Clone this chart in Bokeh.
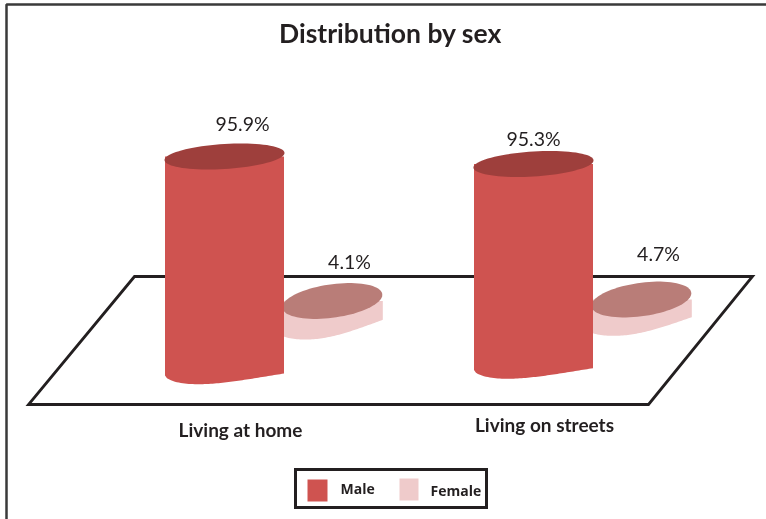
import math
from bokeh.plotting import figure
from bokeh.core.properties import value
from bokeh.models import Range1d
from bokeh.embed import file_html
from bokeh.resources import INLINE

# ---- data ----
title = "Distribution by sex"
categories = ["Living at home", "Living on streets"]
series = ["Male", "Female"]
male = [95.9, 95.3]
female = [4.1, 4.7]

# ---- style / layout ----
W, H = 766, 519
K = 2.124  # pixels per percentage point
MALE_C, MALE_TOP = "#CF5350", "#9E3F3C"
FEM_C, FEM_TOP = "#EFCBCB", "#B97D78"
INK = "#231F20"
LATO = value("Lato")
SANS = value("Open Sans")

p = figure(width=W, height=H, output_backend="svg", toolbar_location=None,
           x_range=Range1d(0, W), y_range=Range1d(0, H / K),
           x_axis_location=None, y_axis_location=None,
           min_border=0, outline_line_color=None,
           styles={"position": "fixed", "left": "0px", "top": "0px"})
p.grid.visible = False
p.background_fill_color = "white"


def yd(px):
    """vertical pixel from the top -> data units"""
    return (H - px) / K


# outer frame and floor
p.line([6, 6, W], [yd(H), yd(4), yd(4)], line_color="#3a3a3a", line_width=2.5)
p.patch([134, 752, 648, 28], [yd(276), yd(276), yd(404), yd(404)],
        fill_color="white", line_color=INK, line_width=2.8, line_join="miter")


def body(cx, half, top_y, left_px, right_px, d, g, color):
    """cylinder side: straight sides, curved base leaning to the left"""
    xs, ys = [cx - half], [top_y]
    n = 60
    for i in range(n + 1):
        u = i / n
        xs.append(cx - half + 2 * half * u)
        line = left_px + (right_px - left_px) * u
        ys.append(yd(line + d * math.sin(math.pi * u ** g)))
    xs.append(cx + half)
    ys.append(top_y)
    p.patch(xs, ys, fill_color=color, line_color=None)


def cap(cx, top_y, a, b, s, color):
    """top face of a cylinder: an ellipse tilted up to the right"""
    ts = [2 * math.pi * i / 80 for i in range(80)]
    xs = [cx + a * math.cos(t) for t in ts]
    ys = [top_y + (b * math.sin(t) + s * math.cos(t)) / K for t in ts]
    p.patch(xs, ys, fill_color=color, line_color=None)


# female cylinders (behind the male ones)
fem_cx = [331.8, 640.8]
fem_origin = [309.2, 309.0]
fem_base = [(335, 319.3, 9, 0.76), (331.7, 316.7, 8.3, 0.76)]
fem_tops = [yd(o) + v for o, v in zip(fem_origin, female)]
for c, t, b in zip(fem_cx, fem_tops, fem_base):
    body(c, 50.5, t, b[0], b[1], b[2], b[3], FEM_C)
    cap(c, t, 50, 16.8, 6.2, FEM_TOP)

# male cylinders
male_cx = [224, 533]
male_origin = [359.7, 365.9]
male_base = [(375, 373, 9.3, 0.58), (369.5, 367.7, 9.3, 0.58)]
male_tops = [yd(o) + v for o, v in zip(male_origin, male)]
for c, t, b in zip(male_cx, male_tops, male_base):
    body(c, 59.5, t, b[0], b[1], b[2], b[3], MALE_C)
    cap(c, t, 60, 12.5, 3.6, MALE_TOP)

# value labels
lab_x = [242, 533, 349, 658]
lab_y = [male_tops[0] + 33 / K, male_tops[1] + 25.5 / K, fem_tops[0] + 39.5 / K, fem_tops[1] + 46 / K]
lab_t = [f"{v}%" for v in (male[0], male[1], female[0], female[1])]
p.text(lab_x, lab_y, text=lab_t, text_font=LATO, text_font_size="19.5px",
       text_color=INK, text_align="center", text_baseline="middle")

# title and category labels
p.text([390], [yd(32.5)], text=[title], text_font=LATO, text_font_style="bold",
       text_font_size="26.5px", text_color=INK, text_align="center", text_baseline="middle")
p.text([240, 544], [yd(429), yd(424)], text=categories, text_font=LATO,
       text_font_style="bold", text_font_size="19px", text_color=INK,
       text_align="center", text_baseline="middle")

# legend
p.patch([295, 486, 486, 295], [yd(469), yd(469), yd(507), yd(507)],
        fill_color="white", line_color=INK, line_width=3, line_join="miter")
p.patch([307, 327, 327, 307], [yd(479), yd(479), yd(501), yd(501)], fill_color=MALE_C, line_color=None)
p.patch([399, 418, 418, 399], [yd(478), yd(478), yd(500), yd(500)], fill_color=FEM_C, line_color=None)
p.text([340, 430], [yd(488), yd(490)], text=series, text_font=SANS, text_font_style="bold",
       text_font_size="14px", text_color=INK, text_align="left", text_baseline="middle")

open("out.html", "w").write(file_html(p, INLINE))
